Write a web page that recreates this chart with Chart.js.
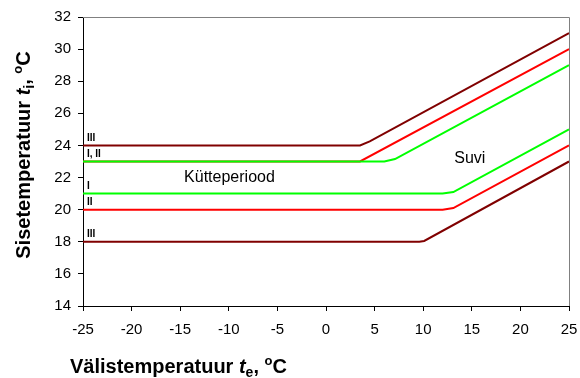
<!DOCTYPE html>
<html>
<head>
<meta charset="utf-8">
<script src="https://cdn.jsdelivr.net/npm/chart.js@4.4.1/dist/chart.umd.min.js"></script>
<style>
  html, body { margin: 0; padding: 0; background: #fff; }
  #wrap { width: 580px; height: 378px; }
</style>
</head>
<body>
<div id="wrap"><canvas id="tempChart"></canvas></div>
<script>
// outdoor temperature (x) and indoor temperature (y) break points
const summerIII_x = [-25, 3.5, 4.5, 25];
const summerIII_y = [24, 24, 24.25, 31];
const summerII_x = [-25, 3.5, 25];
const summerII_y = [23, 23, 30];
const summerI_x = [-25, 6, 7.1, 25];
const summerI_y = [23, 23, 23.15, 29];
const heatI_x = [-25, 12, 13.1, 25];
const heatI_y = [21, 21, 21.1, 25];
const heatII_x = [-25, 12, 13.1, 25];
const heatII_y = [20, 20, 20.1, 24];
const heatIII_x = [-25, 9.6, 10.1, 25];
const heatIII_y = [18, 18, 18.05, 23];

const xTicks = [-25, -20, -15, -10, -5, 0, 5, 10, 15, 20, 25];
const yTicks = [14, 16, 18, 20, 22, 24, 26, 28, 30, 32];

// class labels at the left edge: [text, x, y]
const lineLabels = [
  ['III', -24.6, 24.25],
  ['I, II', -24.6, 23.25],
  ['I', -24.6, 21.3],
  ['II', -24.6, 20.3],
  ['III', -24.6, 18.3]
];
const periodLabels = [
  ['Kütteperiood', -14.6, 22.0],
  ['Suvi', 13.2, 23.15]
];

const toPoints = (xs, ys) => xs.map((x, i) => ({ x: x, y: ys[i] }));

// first dataset is drawn on top
const series = [
  { d: toPoints(summerIII_x, summerIII_y), c: '#800000' },
  { d: toPoints(summerI_x, summerI_y), c: '#00ff00' },
  { d: toPoints(summerII_x, summerII_y), c: '#ff0000' },
  { d: toPoints(heatI_x, heatI_y), c: '#00ff00' },
  { d: toPoints(heatII_x, heatII_y), c: '#ff0000' },
  { d: toPoints(heatIII_x, heatIII_y), c: '#800000' }
];

const FONT = 'Arial, "Liberation Sans", sans-serif';

function drawRich(ctx, parts, x, y) {
  let cx = x;
  parts.forEach(p => {
    ctx.font = p.f;
    ctx.fillText(p.t, cx, y + (p.dy || 0));
    cx += ctx.measureText(p.t).width;
  });
  return cx - x;
}
function richWidth(ctx, parts) {
  let w = 0;
  parts.forEach(p => { ctx.font = p.f; w += ctx.measureText(p.t).width; });
  return w;
}
function titleParts(main, sub) {
  return [
    { t: main + ' ', f: 'bold 20px ' + FONT },
    { t: 't', f: 'bold italic 20px ' + FONT },
    { t: sub, f: 'bold 14px ' + FONT, dy: 4 },
    { t: ', ', f: 'bold 20px ' + FONT },
    { t: 'o', f: 'bold 13px ' + FONT, dy: -8 },
    { t: 'C', f: 'bold 20px ' + FONT }
  ];
}

const decorPlugin = {
  id: 'decor',
  afterDraw(chart) {
    const ctx = chart.ctx;
    const a = chart.chartArea;
    const xs = chart.scales.x, ys = chart.scales.y;
    ctx.save();
    // grey frame top and right
    ctx.strokeStyle = '#808080';
    ctx.lineWidth = 1;
    ctx.beginPath();
    ctx.moveTo(a.left, a.top + 0.5);
    ctx.lineTo(a.right + 0.5, a.top + 0.5);
    ctx.lineTo(a.right + 0.5, a.bottom);
    ctx.stroke();

    ctx.fillStyle = '#000';
    ctx.textBaseline = 'alphabetic';
    ctx.textAlign = 'left';
    ctx.font = 'bold 10px ' + FONT;
    lineLabels.forEach(l => {
      ctx.fillText(l[0], xs.getPixelForValue(l[1]), ys.getPixelForValue(l[2]));
    });
    ctx.font = '16px ' + FONT;
    ctx.textBaseline = 'middle';
    periodLabels.forEach(l => {
      ctx.fillText(l[0], xs.getPixelForValue(l[1]), ys.getPixelForValue(l[2]));
    });

    // axis titles
    ctx.textBaseline = 'alphabetic';
    drawRich(ctx, titleParts('Välistemperatuur', 'e'), 70, 373);

    const yParts = titleParts('Sisetemperatuur', 'i');
    const w = richWidth(ctx, yParts);
    ctx.translate(30, 155);
    ctx.rotate(-Math.PI / 2);
    drawRich(ctx, yParts, -w / 2, 0);
    ctx.restore();
  }
};

const ctx = document.getElementById('tempChart').getContext('2d');
const tempChart = new Chart(ctx, {
  type: 'line',
  data: {
    datasets: series.map(s => ({
      data: s.d,
      borderColor: s.c,
      borderWidth: 2,
      pointRadius: 0,
      fill: false,
      tension: 0
    }))
  },
  options: {
    responsive: true,
    maintainAspectRatio: false,
    animation: false,
    layout: { padding: { top: 17, right: 11, left: 0, bottom: 0 } },
    plugins: {
      legend: { display: false },
      tooltip: { enabled: false }
    },
    scales: {
      x: {
        type: 'linear',
        min: -25, max: 25,
        afterFit(scale) {
          scale.height = 72;
          scale.paddingLeft = 0;
          scale.paddingRight = 0;
        },
        afterBuildTicks(scale) { scale.ticks = xTicks.map(v => ({ value: v })); },
        grid: { drawOnChartArea: false, color: '#000', tickLength: 5 },
        border: { color: '#000', width: 1 },
        ticks: { color: '#000', font: { family: FONT, size: 15 }, padding: 10, maxRotation: 0 }
      },
      y: {
        min: 14, max: 32,
        afterFit(scale) {
          scale.width = 83;
          scale.paddingTop = 0;
          scale.paddingBottom = 0;
        },
        afterBuildTicks(scale) { scale.ticks = yTicks.map(v => ({ value: v })); },
        grid: { drawOnChartArea: false, color: '#000', tickLength: 5 },
        border: { color: '#000', width: 1 },
        ticks: { color: '#000', font: { family: FONT, size: 15 }, padding: 7 }
      }
    }
  },
  plugins: [decorPlugin]
});
</script>
</body>
</html>
